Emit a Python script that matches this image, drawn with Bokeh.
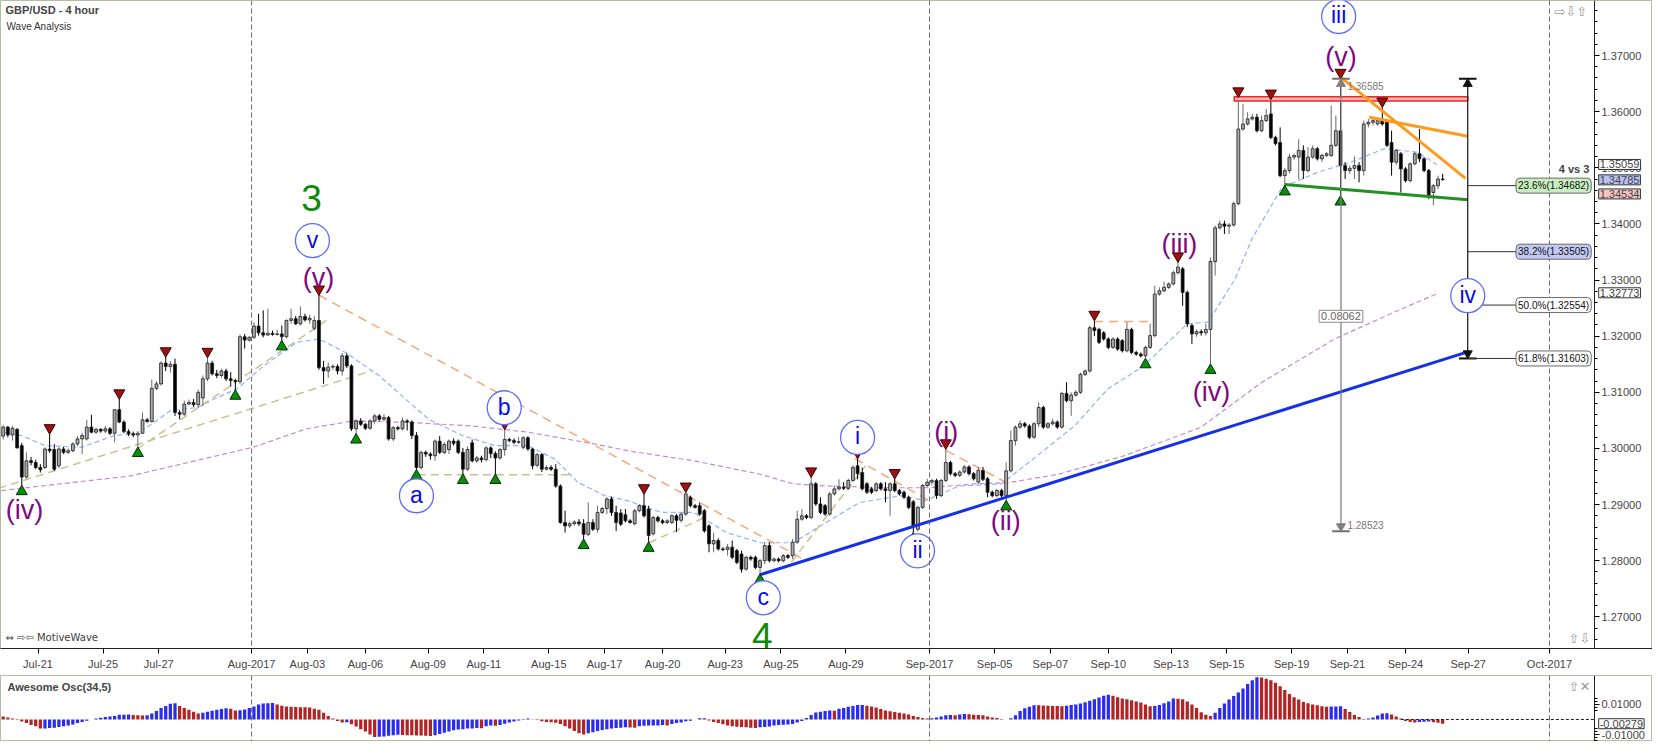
from bokeh.plotting import figure
from bokeh.models import (Range1d, FixedTicker, NumeralTickFormatter, CustomJSTickFormatter,
                          Span, Label, ColumnDataSource)
from bokeh.layouts import column
from bokeh.embed import file_html
from bokeh.resources import INLINE
from bokeh.core.properties import value

# ---------------- data (GBP/USD 4h candles, index = candle number) ----------------
opens = [
1.3022, 1.3038, 1.3024, 1.3034, 1.3005, 1.2949, 1.2978, 1.2975, 1.2966, 1.2966,
1.2999, 1.2998, 1.2969, 1.2999, 1.2993, 1.2996, 1.3008, 1.3017, 1.3017, 1.3038,
1.3029, 1.3034, 1.3031, 1.3035, 1.3027, 1.3069, 1.3047, 1.3030, 1.3026, 1.3024,
1.3027, 1.3051, 1.3048, 1.3107, 1.3115, 1.3152, 1.3146, 1.3150, 1.3064, 1.3061,
1.3079, 1.3082, 1.3078, 1.3090, 1.3124, 1.3152, 1.3133, 1.3130, 1.3138, 1.3124,
1.3121, 1.3119, 1.3199, 1.3193, 1.3198, 1.3218, 1.3206, 1.3202, 1.3205, 1.3203,
1.3204, 1.3199, 1.3228, 1.3231, 1.3222, 1.3235, 1.3229, 1.3214, 1.3228, 1.3144,
1.3138, 1.3145, 1.3146, 1.3138, 1.3165, 1.3147, 1.3035, 1.3049, 1.3043, 1.3036,
1.3049, 1.3058, 1.3052, 1.3055, 1.3017, 1.3037, 1.3035, 1.3049, 1.3047, 1.3023,
1.2966, 1.2993, 1.2990, 1.2987, 1.3013, 1.2993, 1.2998, 1.3013, 1.3013, 1.2993,
1.2963, 1.3010, 1.2978, 1.2983, 1.2980, 1.3001, 1.2991, 1.2983, 1.2998, 1.3016,
1.3014, 1.3011, 1.3002, 1.3019, 1.2999, 1.2970, 1.2989, 1.2963, 1.2966, 1.2963,
1.2933, 1.2868, 1.2862, 1.2866, 1.2869, 1.2866, 1.2847, 1.2868, 1.2856, 1.2886,
1.2893, 1.2910, 1.2886, 1.2885, 1.2882, 1.2871, 1.2866, 1.2889, 1.2898, 1.2892,
1.2848, 1.2877, 1.2871, 1.2868, 1.2868, 1.2880, 1.2872, 1.2883, 1.2913, 1.2898,
1.2898, 1.2889, 1.2862, 1.2830, 1.2836, 1.2821, 1.2820, 1.2824, 1.2818, 1.2812,
1.2785, 1.2806, 1.2806, 1.2788, 1.2800, 1.2827, 1.2800, 1.2803, 1.2800, 1.2809,
1.2809, 1.2833, 1.2874, 1.2880, 1.2877, 1.2937, 1.2901, 1.2898, 1.2883, 1.2919,
1.2928, 1.2931, 1.2929, 1.2943, 1.2969, 1.2957, 1.2937, 1.2928, 1.2925, 1.2937,
1.2928, 1.2925, 1.2937, 1.2925, 1.2922, 1.2913, 1.2905, 1.2856, 1.2895, 1.2934,
1.2940, 1.2943, 1.2916, 1.2943, 1.2975, 1.2955, 1.2952, 1.2958, 1.2967, 1.2955,
1.2940, 1.2961, 1.2946, 1.2922, 1.2916, 1.2925, 1.2916, 1.2960, 1.3014, 1.3038,
1.3044, 1.3040, 1.3020, 1.3044, 1.3073, 1.3038, 1.3044, 1.3047, 1.3038, 1.3098,
1.3085, 1.3095, 1.3100, 1.3132, 1.3138, 1.3215, 1.3212, 1.3206, 1.3195, 1.3180,
1.3195, 1.3192, 1.3174, 1.3212, 1.3171, 1.3168, 1.3165, 1.3180, 1.3201, 1.3275,
1.3281, 1.3287, 1.3293, 1.3313, 1.3320, 1.3278, 1.3219, 1.3204, 1.3208, 1.3206,
1.3212, 1.3333, 1.3393, 1.3400, 1.3396, 1.3398, 1.3436, 1.3569, 1.3578, 1.3587,
1.3590, 1.3566, 1.3584, 1.3596, 1.3554, 1.3545, 1.3486, 1.3495, 1.3519, 1.3519,
1.3531, 1.3495, 1.3519, 1.3534, 1.3516, 1.3522, 1.3522, 1.3540, 1.3566, 1.3504,
1.3495, 1.3499, 1.3504, 1.3495, 1.3578, 1.3581, 1.3578, 1.3587, 1.3584, 1.3545,
1.3510, 1.3525, 1.3498, 1.3477, 1.3507, 1.3525, 1.3516, 1.3495, 1.3456, 1.3468,
1.3480]

highs = [
1.3042, 1.3040, 1.3040, 1.3036, 1.3010, 1.2993, 1.2985, 1.2980, 1.2972, 1.3002,
1.3026, 1.3008, 1.3002, 1.3003, 1.3000, 1.3011, 1.3022, 1.3028, 1.3051, 1.3060,
1.3037, 1.3036, 1.3040, 1.3038, 1.3070, 1.3088, 1.3050, 1.3034, 1.3030, 1.3031,
1.3064, 1.3054, 1.3123, 1.3120, 1.3155, 1.3163, 1.3156, 1.3160, 1.3068, 1.3085,
1.3087, 1.3088, 1.3105, 1.3130, 1.3162, 1.3156, 1.3140, 1.3142, 1.3142, 1.3136,
1.3124, 1.3203, 1.3204, 1.3200, 1.3225, 1.3240, 1.3246, 1.3249, 1.3210, 1.3212,
1.3219, 1.3230, 1.3249, 1.3236, 1.3253, 1.3240, 1.3238, 1.3236, 1.3273, 1.3156,
1.3153, 1.3150, 1.3150, 1.3170, 1.3170, 1.3150, 1.3052, 1.3054, 1.3045, 1.3052,
1.3061, 1.3061, 1.3061, 1.3058, 1.3040, 1.3040, 1.3055, 1.3052, 1.3050, 1.3029,
1.2996, 1.2996, 1.2993, 1.3016, 1.3022, 1.3011, 1.3016, 1.3018, 1.3016, 1.3001,
1.3004, 1.3016, 1.2987, 1.2987, 1.3004, 1.3004, 1.2995, 1.3001, 1.3034, 1.3019,
1.3018, 1.3020, 1.3022, 1.3022, 1.3001, 1.2992, 1.2992, 1.2970, 1.2970, 1.2972,
1.2936, 1.2889, 1.2870, 1.2872, 1.2874, 1.2874, 1.2904, 1.2874, 1.2898, 1.2896,
1.2913, 1.2914, 1.2898, 1.2892, 1.2892, 1.2874, 1.2892, 1.2901, 1.2919, 1.2898,
1.2880, 1.2880, 1.2874, 1.2874, 1.2883, 1.2883, 1.2886, 1.2922, 1.2916, 1.2901,
1.2904, 1.2892, 1.2865, 1.2850, 1.2840, 1.2824, 1.2830, 1.2836, 1.2821, 1.2818,
1.2809, 1.2809, 1.2809, 1.2803, 1.2833, 1.2833, 1.2806, 1.2806, 1.2812, 1.2812,
1.2839, 1.2889, 1.2892, 1.2883, 1.2949, 1.2940, 1.2913, 1.2901, 1.2922, 1.2934,
1.2945, 1.2940, 1.2946, 1.2970, 1.2982, 1.2966, 1.2940, 1.2931, 1.2940, 1.2940,
1.2940, 1.2940, 1.2946, 1.2928, 1.2925, 1.2916, 1.2908, 1.2898, 1.2937, 1.2946,
1.2946, 1.2946, 1.2946, 1.2999, 1.2978, 1.2958, 1.2961, 1.2970, 1.2970, 1.2958,
1.2967, 1.2967, 1.2949, 1.2925, 1.2928, 1.2928, 1.2975, 1.3032, 1.3041, 1.3050,
1.3047, 1.3043, 1.3047, 1.3082, 1.3076, 1.3047, 1.3053, 1.3050, 1.3101, 1.3118,
1.3100, 1.3104, 1.3135, 1.3141, 1.3219, 1.3228, 1.3215, 1.3209, 1.3198, 1.3198,
1.3198, 1.3195, 1.3225, 1.3215, 1.3174, 1.3171, 1.3183, 1.3222, 1.3290, 1.3287,
1.3297, 1.3296, 1.3317, 1.3332, 1.3323, 1.3281, 1.3222, 1.3212, 1.3212, 1.3222,
1.3340, 1.3397, 1.3406, 1.3406, 1.3402, 1.3440, 1.3626, 1.3614, 1.3599, 1.3596,
1.3596, 1.3593, 1.3605, 1.3622, 1.3557, 1.3572, 1.3500, 1.3525, 1.3525, 1.3551,
1.3540, 1.3537, 1.3540, 1.3537, 1.3525, 1.3528, 1.3611, 1.3593, 1.3659, 1.3510,
1.3504, 1.3520, 1.3510, 1.3584, 1.3587, 1.3587, 1.3590, 1.3608, 1.3587, 1.3566,
1.3534, 1.3528, 1.3501, 1.3510, 1.3528, 1.3569, 1.3519, 1.3498, 1.3471, 1.3486,
1.3489]

lows = [
1.3016, 1.3020, 1.3014, 1.3000, 1.2934, 1.2946, 1.2970, 1.2963, 1.2957, 1.2963,
1.2992, 1.2960, 1.2965, 1.2990, 1.2990, 1.2993, 1.3004, 1.2990, 1.3014, 1.3027,
1.3026, 1.3028, 1.3027, 1.3024, 1.3011, 1.3045, 1.3027, 1.3022, 1.3020, 1.3002,
1.3026, 1.3046, 1.3046, 1.3104, 1.3112, 1.3138, 1.3135, 1.3058, 1.3052, 1.3058,
1.3077, 1.3074, 1.3072, 1.3075, 1.3120, 1.3130, 1.3125, 1.3126, 1.3120, 1.3110,
1.3104, 1.3115, 1.3178, 1.3190, 1.3195, 1.3201, 1.3198, 1.3201, 1.3201, 1.3201,
1.3192, 1.3196, 1.3222, 1.3220, 1.3219, 1.3226, 1.3222, 1.3210, 1.3140, 1.3115,
1.3126, 1.3140, 1.3132, 1.3130, 1.3143, 1.3031, 1.3026, 1.3040, 1.3033, 1.3033,
1.3044, 1.3049, 1.3048, 1.3014, 1.3013, 1.3032, 1.3032, 1.3032, 1.3017, 1.2962,
1.2963, 1.2985, 1.2980, 1.2978, 1.2990, 1.2990, 1.2990, 1.3005, 1.2990, 1.2954,
1.2960, 1.2975, 1.2974, 1.2975, 1.2977, 1.2983, 1.2954, 1.2980, 1.2987, 1.3011,
1.3008, 1.3008, 1.2998, 1.2996, 1.2963, 1.2966, 1.2958, 1.2961, 1.2960, 1.2930,
1.2866, 1.2850, 1.2858, 1.2862, 1.2862, 1.2838, 1.2844, 1.2853, 1.2850, 1.2883,
1.2883, 1.2880, 1.2853, 1.2862, 1.2868, 1.2866, 1.2863, 1.2886, 1.2877, 1.2833,
1.2845, 1.2868, 1.2865, 1.2865, 1.2865, 1.2851, 1.2868, 1.2880, 1.2895, 1.2893,
1.2880, 1.2850, 1.2815, 1.2815, 1.2818, 1.2817, 1.2809, 1.2803, 1.2794, 1.2779,
1.2782, 1.2800, 1.2785, 1.2776, 1.2794, 1.2797, 1.2797, 1.2797, 1.2797, 1.2803,
1.2803, 1.2830, 1.2871, 1.2874, 1.2874, 1.2898, 1.2883, 1.2880, 1.2880, 1.2916,
1.2925, 1.2926, 1.2926, 1.2940, 1.2945, 1.2925, 1.2919, 1.2919, 1.2922, 1.2925,
1.2904, 1.2880, 1.2922, 1.2916, 1.2910, 1.2892, 1.2850, 1.2852, 1.2892, 1.2931,
1.2935, 1.2910, 1.2913, 1.2940, 1.2952, 1.2949, 1.2949, 1.2955, 1.2952, 1.2943,
1.2937, 1.2942, 1.2913, 1.2913, 1.2913, 1.2912, 1.2907, 1.2957, 1.3005, 1.3035,
1.3037, 1.3017, 1.3017, 1.3038, 1.3035, 1.3035, 1.3041, 1.3035, 1.3035, 1.3082,
1.3058, 1.3092, 1.3097, 1.3129, 1.3135, 1.3200, 1.3186, 1.3192, 1.3177, 1.3177,
1.3174, 1.3171, 1.3171, 1.3168, 1.3165, 1.3162, 1.3160, 1.3177, 1.3198, 1.3272,
1.3278, 1.3284, 1.3290, 1.3310, 1.3254, 1.3216, 1.3186, 1.3199, 1.3201, 1.3201,
1.3150, 1.3308, 1.3390, 1.3382, 1.3382, 1.3395, 1.3433, 1.3566, 1.3575, 1.3584,
1.3563, 1.3563, 1.3581, 1.3551, 1.3540, 1.3483, 1.3468, 1.3490, 1.3514, 1.3480,
1.3480, 1.3492, 1.3516, 1.3513, 1.3510, 1.3519, 1.3519, 1.3537, 1.3450, 1.3480,
1.3489, 1.3480, 1.3474, 1.3486, 1.3572, 1.3575, 1.3575, 1.3575, 1.3537, 1.3486,
1.3505, 1.3456, 1.3474, 1.3474, 1.3504, 1.3510, 1.3492, 1.3444, 1.3433, 1.3462,
1.3477]

closes = [
1.3038, 1.3024, 1.3036, 1.3001, 1.2949, 1.2978, 1.2975, 1.2966, 1.2962, 1.2999,
1.2996, 1.2963, 1.2999, 1.2993, 1.2996, 1.3008, 1.3017, 1.3023, 1.3038, 1.3029,
1.3034, 1.3031, 1.3035, 1.3027, 1.3069, 1.3047, 1.3030, 1.3026, 1.3024, 1.3027,
1.3051, 1.3048, 1.3107, 1.3115, 1.3152, 1.3146, 1.3150, 1.3064, 1.3061, 1.3079,
1.3082, 1.3078, 1.3100, 1.3124, 1.3152, 1.3133, 1.3130, 1.3138, 1.3124, 1.3121,
1.3119, 1.3199, 1.3193, 1.3198, 1.3218, 1.3206, 1.3202, 1.3205, 1.3203, 1.3204,
1.3199, 1.3228, 1.3231, 1.3222, 1.3235, 1.3229, 1.3232, 1.3228, 1.3144, 1.3138,
1.3145, 1.3146, 1.3138, 1.3165, 1.3147, 1.3035, 1.3049, 1.3043, 1.3036, 1.3049,
1.3058, 1.3052, 1.3055, 1.3017, 1.3037, 1.3035, 1.3049, 1.3047, 1.3023, 1.2966,
1.2993, 1.2990, 1.2987, 1.3013, 1.2993, 1.3007, 1.3013, 1.3009, 1.2993, 1.2963,
1.2998, 1.2978, 1.2983, 1.2980, 1.3001, 1.2991, 1.2983, 1.2998, 1.3016, 1.3014,
1.3011, 1.3012, 1.3019, 1.2999, 1.2969, 1.2989, 1.2963, 1.2966, 1.2963, 1.2933,
1.2868, 1.2862, 1.2866, 1.2869, 1.2866, 1.2847, 1.2868, 1.2856, 1.2886, 1.2893,
1.2910, 1.2886, 1.2868, 1.2865, 1.2871, 1.2868, 1.2889, 1.2898, 1.2880, 1.2845,
1.2877, 1.2871, 1.2868, 1.2871, 1.2880, 1.2872, 1.2883, 1.2919, 1.2898, 1.2895,
1.2883, 1.2853, 1.2830, 1.2836, 1.2821, 1.2820, 1.2824, 1.2806, 1.2797, 1.2785,
1.2806, 1.2803, 1.2788, 1.2800, 1.2827, 1.2800, 1.2803, 1.2800, 1.2809, 1.2806,
1.2833, 1.2874, 1.2880, 1.2877, 1.2937, 1.2901, 1.2886, 1.2883, 1.2919, 1.2928,
1.2931, 1.2929, 1.2943, 1.2966, 1.2955, 1.2928, 1.2922, 1.2922, 1.2937, 1.2928,
1.2925, 1.2937, 1.2925, 1.2919, 1.2913, 1.2895, 1.2862, 1.2895, 1.2934, 1.2940,
1.2943, 1.2916, 1.2943, 1.2975, 1.2955, 1.2952, 1.2958, 1.2967, 1.2955, 1.2946,
1.2961, 1.2945, 1.2922, 1.2916, 1.2925, 1.2916, 1.2960, 1.3014, 1.3038, 1.3044,
1.3040, 1.3020, 1.3044, 1.3073, 1.3038, 1.3044, 1.3047, 1.3038, 1.3098, 1.3085,
1.3095, 1.3100, 1.3132, 1.3138, 1.3215, 1.3210, 1.3189, 1.3195, 1.3180, 1.3195,
1.3177, 1.3174, 1.3212, 1.3171, 1.3168, 1.3165, 1.3180, 1.3201, 1.3275, 1.3281,
1.3287, 1.3293, 1.3313, 1.3323, 1.3278, 1.3222, 1.3204, 1.3208, 1.3206, 1.3212,
1.3333, 1.3393, 1.3400, 1.3396, 1.3398, 1.3436, 1.3569, 1.3578, 1.3587, 1.3590,
1.3566, 1.3584, 1.3593, 1.3554, 1.3543, 1.3486, 1.3495, 1.3519, 1.3522, 1.3531,
1.3495, 1.3519, 1.3534, 1.3516, 1.3522, 1.3525, 1.3540, 1.3566, 1.3504, 1.3495,
1.3499, 1.3504, 1.3495, 1.3578, 1.3581, 1.3584, 1.3584, 1.3578, 1.3540, 1.3510,
1.3531, 1.3498, 1.3477, 1.3507, 1.3525, 1.3516, 1.3495, 1.3450, 1.3468, 1.3480,
1.3479]

# Awesome Oscillator (34,5) values per candle
ao_values = [
0.0020, 0.0014, 0.0006, -0.0004, -0.0014, -0.0024, -0.0036, -0.0044, -0.0060, -0.0060,
-0.0056, -0.0054, -0.0050, -0.0044, -0.0040, -0.0034, -0.0024, -0.0016, -0.0008, 0.0000,
0.0006, 0.0012, 0.0016, 0.0020, 0.0024, 0.0032, 0.0032, 0.0033, 0.0030, 0.0029,
0.0026, 0.0028, 0.0040, 0.0056, 0.0076, 0.0090, 0.0104, 0.0108, 0.0090, 0.0076,
0.0064, 0.0052, 0.0040, 0.0044, 0.0052, 0.0058, 0.0064, 0.0070, 0.0074, 0.0072,
0.0060, 0.0062, 0.0066, 0.0076, 0.0086, 0.0100, 0.0106, 0.0108, 0.0109, 0.0100,
0.0092, 0.0086, 0.0084, 0.0083, 0.0082, 0.0081, 0.0080, 0.0072, 0.0064, 0.0044,
0.0024, 0.0006, -0.0010, -0.0020, -0.0019, -0.0032, -0.0046, -0.0064, -0.0080, -0.0100,
-0.0116, -0.0114, -0.0112, -0.0108, -0.0104, -0.0102, -0.0103, -0.0104, -0.0105, -0.0106,
-0.0107, -0.0108, -0.0110, -0.0104, -0.0096, -0.0088, -0.0080, -0.0072, -0.0066, -0.0064,
-0.0060, -0.0059, -0.0056, -0.0058, -0.0044, -0.0040, -0.0041, -0.0036, -0.0028, -0.0020,
-0.0014, -0.0006, 0.0004, 0.0006, 0.0002, -0.0004, -0.0012, -0.0016, -0.0018, -0.0022,
-0.0030, -0.0044, -0.0060, -0.0076, -0.0092, -0.0100, -0.0092, -0.0084, -0.0076, -0.0070,
-0.0064, -0.0060, -0.0056, -0.0054, -0.0052, -0.0053, -0.0054, -0.0044, -0.0041, -0.0040,
-0.0040, -0.0039, -0.0036, -0.0040, -0.0030, -0.0024, -0.0020, -0.0012, -0.0008, 0.0000,
0.0008, 0.0009, -0.0006, -0.0016, -0.0024, -0.0032, -0.0040, -0.0044, -0.0048, -0.0050,
-0.0052, -0.0054, -0.0056, -0.0052, -0.0050, -0.0046, -0.0040, -0.0036, -0.0035, -0.0034,
-0.0030, -0.0020, -0.0010, 0.0010, 0.0030, 0.0046, 0.0052, 0.0056, 0.0060, 0.0058,
0.0072, 0.0076, 0.0084, 0.0090, 0.0096, 0.0097, 0.0092, 0.0086, 0.0080, 0.0070,
0.0060, 0.0054, 0.0050, 0.0044, 0.0040, 0.0034, 0.0024, 0.0016, 0.0010, 0.0006,
0.0008, 0.0014, 0.0020, 0.0028, 0.0030, 0.0028, 0.0034, 0.0036, 0.0035, 0.0032,
0.0030, 0.0028, 0.0020, 0.0014, 0.0010, 0.0004, 0.0000, 0.0008, 0.0028, 0.0056,
0.0074, 0.0084, 0.0095, 0.0094, 0.0093, 0.0092, 0.0090, 0.0089, 0.0088, 0.0092,
0.0096, 0.0100, 0.0106, 0.0114, 0.0124, 0.0134, 0.0146, 0.0158, 0.0164, 0.0158,
0.0148, 0.0140, 0.0134, 0.0128, 0.0120, 0.0112, 0.0100, 0.0088, 0.0090, 0.0096,
0.0108, 0.0120, 0.0140, 0.0138, 0.0134, 0.0120, 0.0100, 0.0076, 0.0048, 0.0032,
0.0024, 0.0044, 0.0076, 0.0106, 0.0132, 0.0156, 0.0180, 0.0206, 0.0236, 0.0260,
0.0280, 0.0278, 0.0270, 0.0260, 0.0244, 0.0220, 0.0196, 0.0170, 0.0148, 0.0132,
0.0116, 0.0108, 0.0100, 0.0094, 0.0088, 0.0084, 0.0086, 0.0087, 0.0088, 0.0070,
0.0050, 0.0030, 0.0016, 0.0004, 0.0006, 0.0014, 0.0026, 0.0040, 0.0041, 0.0034,
0.0020, 0.0006, -0.0010, -0.0016, -0.0020, -0.0016, -0.0015, -0.0014, -0.0018, -0.0022,
-0.0028]

# date axis (candle index of each day boundary)
tick_labels = ["Jul-21", "Jul-25", "Jul-27", "Aug-2017", "Aug-03", "Aug-06", "Aug-09", "Aug-11",
               "Aug-15", "Aug-17", "Aug-20", "Aug-23", "Aug-25", "Aug-29", "Sep-2017", "Sep-05",
               "Sep-07", "Sep-10", "Sep-13", "Sep-15", "Sep-19", "Sep-21", "Sep-24", "Sep-27", "Oct-2017"]
tick_pos = [7.5, 21.5, 33.5, 53.5, 65.5, 78.0, 91.5, 103.5, 117.5, 129.5, 142.0, 155.5, 167.5,
            181.5, 199.5, 213.5, 225.5, 238.0, 251.5, 263.5, 277.5, 289.5, 302.0, 315.5, 333.0]
month_labels = ["Aug-2017", "Sep-2017", "Oct-2017"]
price_ticks = [1.27, 1.28, 1.29, 1.30, 1.31, 1.32, 1.33, 1.34, 1.35, 1.36, 1.37]
osc_ticks = [-0.01, 0.01]

# moving averages (candle index, price)
blue_ma_x = [-0.3, 3.9, 9.0, 16.8, 24.0, 28.9, 32.6, 36.0, 41.8, 45.4, 50.3, 56.1, 63.2, 68.1,
             73.9, 80.9, 91.6, 98.9, 105.9, 113.0, 118.8, 123.7, 129.5, 134.4, 141.7, 148.7,
             155.8, 163.1, 170.1, 177.2, 184.5, 193.6, 198.6, 205.8, 215.0, 223.6, 230.7, 237.9,
             245.6, 255.0, 259.5, 265.3, 268.9, 275.4, 283.1, 290.3, 297.4, 304.5, 308.7]
blue_ma_y = [1.3029, 1.3023, 1.3005, 1.3002, 1.3023, 1.3026, 1.3047, 1.3067, 1.3073, 1.3088,
             1.3106, 1.3147, 1.3189, 1.3195, 1.3170, 1.3130, 1.3052, 1.3023, 1.3005, 1.3005,
             1.2981, 1.2940, 1.2916, 1.2907, 1.2886, 1.2886, 1.2850, 1.2832, 1.2832, 1.2868,
             1.2904, 1.2916, 1.2907, 1.2933, 1.2937, 1.2993, 1.3040, 1.3106, 1.3147, 1.3222,
             1.3225, 1.3302, 1.3373, 1.3465, 1.3492, 1.3510, 1.3534, 1.3528, 1.3506]
purple_ma_x = [-0.4, 27.4, 53.8, 65.3, 75.4, 88.2, 101.0, 113.0, 127.3, 134.4, 148.7, 163.1,
               170.1, 177.2, 191.5, 199.6, 209.3, 216.5, 227.2, 241.4, 257.8, 271.1, 286.7,
               301.0, 309.2]
purple_ma_y = [1.2925, 1.2951, 1.3002, 1.3035, 1.3049, 1.3046, 1.3040, 1.3029, 1.3008, 1.2996,
               1.2978, 1.2954, 1.2937, 1.2933, 1.2930, 1.2930, 1.2937, 1.2939, 1.2954, 1.2987,
               1.3037, 1.3118, 1.3195, 1.3248, 1.3277]

# swing markers (candle numbers)
swing_high_idx = [10, 25, 35, 44, 68, 108, 138, 147, 174, 184, 192, 203, 235, 253, 266, 273, 288, 297]
swing_low_idx = [4, 29, 50, 60, 76, 89, 99, 106, 125, 139, 163, 196, 216, 246, 260, 276, 288]

# trendlines (candle index, price)
salmon_x0 = [68.0, 183.4, 203.1, 234.9]
salmon_y0 = [1.3273, 1.2982, 1.2996, 1.3226]
salmon_x1 = [172.3, 199.4, 216.1, 247.8]
salmon_y1 = [1.2803, 1.2907, 1.2939, 1.3226]
khaki_x0 = [-1.0, 28.9, 89.3, 139.1, 169.7]
khaki_y0 = [1.2929, 1.2999, 1.2953, 1.2832, 1.2797]
khaki_x1 = [79.6, 69.6, 122.4, 151.9, 185.7]
khaki_y1 = [1.3139, 1.3228, 1.2953, 1.2880, 1.2969]
blue_tl_x = [163.0, 315.4]
blue_tl_y = [1.2775, 1.3172]
green_tl_x = [276.0, 315.4]
green_tl_y = [1.3470, 1.3443]
orange_x0 = [288.1, 294.2]
orange_y0 = [1.3661, 1.3590]
orange_x1 = [314.9, 315.4]
orange_y1 = [1.3481, 1.3556]
red_zone_x = [265.1, 315.4]
red_zone_y = [1.36190, 1.36265]

# fibonacci projection
fib_x = 315.4
fib_top = 1.36585
fib_bottom = 1.31603
fib_pct = [23.6, 38.2, 50.0, 61.8]
fib_val = [1.34682, 1.33505, 1.32554, 1.31603]
fib_fill = ["#c9efc0", "#c3c9f3", "#ffffff", "#ffffff"]
fib_label_x = 325.8

# measured swing (v) high to low
meas_x = 288.1
meas_top = 1.36585
meas_bottom = 1.28523
meas_range = "0.08062"

# wave labels
circ_text = ["v", "b", "a", "c", "i", "ii", "iii", "iv"]
circ_x = [66.6, 107.9, 89.0, 163.7, 184.0, 196.9, 287.6, 315.4]
circ_y = [1.33702, 1.30725, 1.29157, 1.27339, 1.30196, 1.28176, 1.37695, 1.32722]
paren_text = ["(v)", "(iv)", "(i)", "(ii)", "(iii)", "(iv)", "(v)"]
paren_x = [67.9, 4.6, 203.1, 215.9, 253.3, 260.2, 288.1]
paren_y = [1.33043, 1.28907, 1.30285, 1.28711, 1.33649, 1.31011, 1.36970]
big_text = ["3", "4"]
big_x = [66.4, 163.5]
big_y = [1.34469, 1.26661]

# price flags on the right axis
flag_val = [1.35059, 1.34785, 1.34534, 1.32773]
flag_fill = ["#ffffff", "#b9c1f3", "#f6c4c4", "#ffffff"]
osc_flag = -0.00279

# ---------------- figure setup ----------------
FONT = "Liberation Sans"
X0, X1 = -0.58, 342.7          # chart area (axis line sits at X1)
FW = 1652                      # full frame incl. price-scale strip
XPX = 1594 / (X1 - X0)         # px per candle inside the chart area
XE = X0 + FW / XPX             # right end of frame
Y0, Y1 = 1.26436, 1.3798
FH = 648
OH = 66
ppx = (Y1 - Y0) / FH

n = min(len(opens), len(highs), len(lows), len(closes))
xs = list(range(n))

xr = Range1d(X0, XE)
p = figure(output_backend="svg", toolbar_location=None, x_range=xr, y_range=Range1d(Y0, Y1),
           frame_width=FW, frame_height=FH, min_border_left=0, min_border_right=0,
           min_border_top=0, min_border_bottom=0, y_axis_location="right")
p.grid.visible = False
p.outline_line_color = "#b9b9a8"
p.background_fill_color = "white"
p.border_fill_color = "white"

# axes
p.xaxis.ticker = FixedTicker(ticks=tick_pos)
p.xaxis.formatter = CustomJSTickFormatter(args=dict(pos=tick_pos, labs=tick_labels), code="""
let b = 0, d = 1e9;
for (let j = 0; j < pos.length; j++) { const e = Math.abs(pos[j] - tick); if (e < d) { d = e; b = j; } }
return labs[b];
""")
p.xaxis.major_tick_in = 0
p.xaxis.major_tick_out = 5
p.xaxis.minor_tick_out = 0
p.xaxis.major_label_standoff = 4
p.xaxis.major_label_text_font = FONT
p.xaxis.major_label_text_font_size = "11px"
p.xaxis.axis_line_color = "#222222"

minor = [round(1.264 + 0.002 * k, 3) for k in range(58)]
p.yaxis.fixed_location = X1
p.yaxis.ticker = FixedTicker(ticks=price_ticks, minor_ticks=minor)
p.yaxis.formatter = NumeralTickFormatter(format="0.00000")
p.yaxis.major_tick_in = 0
p.yaxis.major_tick_out = 5
p.yaxis.minor_tick_in = 0
p.yaxis.minor_tick_out = 3
p.yaxis.major_label_standoff = 2
p.yaxis.major_label_text_font = FONT
p.yaxis.major_label_text_font_size = "11px"
p.yaxis.axis_line_color = "#222222"

# month separators
for lab in month_labels:
    loc = tick_pos[tick_labels.index(lab)]
    p.add_layout(Span(location=loc, dimension="height", line_color="#666666",
                      line_dash="5 3", line_width=1))

# moving averages
p.line(purple_ma_x, purple_ma_y, line_color="#c98ac9", line_dash="5 3", line_width=1.2)
p.line(blue_ma_x, blue_ma_y, line_color="#94b0ff", line_dash="5 3", line_width=1.2)

# dashed trendlines
p.segment(x0=khaki_x0, y0=khaki_y0, x1=khaki_x1, y1=khaki_y1, line_color="#c9c28e",
          line_dash="8 5", line_width=1.5)
p.segment(x0=salmon_x0, y0=salmon_y0, x1=salmon_x1, y1=salmon_y1, line_color="#f7a878",
          line_dash="9 6", line_width=1.5)

# candles
up = [closes[i] >= opens[i] for i in xs]
csrc = ColumnDataSource(dict(
    x=xs, h=highs[:n], l=lows[:n],
    top=[max(opens[i], closes[i]) for i in xs],
    bot=[min(opens[i], closes[i]) for i in xs],
    fill=["#ababab" if u else "#000000" for u in up],
    wick=["#6a6a6a" if u else "#000000" for u in up]))
p.segment(x0="x", y0="h", x1="x", y1="l", source=csrc, line_color="wick", line_width=1)
p.vbar(x="x", top="top", bottom="bot", width=0.62, source=csrc, fill_color="fill",
       line_color="#1a1a1a", line_width=0.8)

# solid trend lines
p.quad(left=[red_zone_x[0]], right=[red_zone_x[1]], bottom=[red_zone_y[0]], top=[red_zone_y[1]],
       fill_color="#ffb5b5", line_color="#f02525", line_width=1.5)
p.line(blue_tl_x, blue_tl_y, line_color="#1630e8", line_width=3)
p.line(green_tl_x, green_tl_y, line_color="#239023", line_width=3)
p.segment(x0=orange_x0, y0=orange_y0, x1=orange_x1, y1=orange_y1, line_color="#ff9b1c", line_width=3)

# swing markers
p.scatter(x=swing_high_idx, y=[highs[i] + 6 * ppx for i in swing_high_idx], marker="inverted_triangle",
          size=11, fill_color="#9c1111", line_color="#400000", line_width=1)
p.scatter(x=swing_low_idx, y=[lows[i] - 6 * ppx for i in swing_low_idx], marker="triangle",
          size=11, fill_color="#0b8c0b", line_color="#003300", line_width=1)

# measured move (gray)
p.segment(x0=[meas_x], y0=[meas_top], x1=[meas_x], y1=[meas_bottom], line_color="#808080", line_width=1.3)
p.segment(x0=[meas_x - 1.9, meas_x - 1.9], y0=[meas_top, meas_bottom], x1=[meas_x + 1.9, meas_x + 1.9],
          y1=[meas_top, meas_bottom], line_color="#707070", line_width=2)
p.scatter(x=[meas_x], y=[meas_top - 5 * ppx], marker="triangle", size=9, fill_color="#808080", line_color="#808080")
p.scatter(x=[meas_x], y=[meas_bottom + 5 * ppx], marker="inverted_triangle", size=9, fill_color="#808080", line_color="#808080")
p.add_layout(Label(x=meas_x + 1.4, y=meas_top - 7 * ppx, text="%.5f" % meas_top, text_font=FONT,
                   text_font_size="10px", text_color="#777777", text_baseline="middle"))
p.add_layout(Label(x=meas_x + 1.4, y=meas_bottom + 6 * ppx, text="%.5f" % meas_bottom, text_font=FONT,
                   text_font_size="10px", text_color="#777777", text_baseline="middle"))
p.add_layout(Label(x=meas_x, y=(meas_top + meas_bottom) / 2 - 0.0020, text=meas_range, text_font=FONT,
                   text_font_size="11px", text_color="#666666", text_align="center", text_baseline="middle",
                   background_fill_color="white", border_line_color="#8a8a8a", padding=2))

# fibonacci projection (black)
p.segment(x0=[fib_x], y0=[fib_top], x1=[fib_x], y1=[fib_bottom], line_color="#111111", line_width=1.2)
p.segment(x0=[fib_x - 1.9, fib_x - 1.9], y0=[fib_top, fib_bottom], x1=[fib_x + 1.9, fib_x + 1.9],
          y1=[fib_top, fib_bottom], line_color="#111111", line_width=2)
p.scatter(x=[fib_x], y=[fib_top - 5 * ppx], marker="triangle", size=9, fill_color="#111111", line_color="#111111")
p.scatter(x=[fib_x], y=[fib_bottom + 5 * ppx], marker="inverted_triangle", size=9, fill_color="#111111", line_color="#111111")
p.segment(x0=[fib_x] * len(fib_val), y0=fib_val, x1=[fib_label_x] * len(fib_val), y1=fib_val,
          line_color="#333333", line_width=1)
for pct, val, fc in zip(fib_pct, fib_val, fib_fill):
    p.add_layout(Label(x=fib_label_x, y=val, text="%.1f%%(%.5f)" % (pct, val), text_font=FONT,
                       text_font_size="10px", text_color="#111111", text_baseline="middle",
                       background_fill_color=fc, border_line_color="#6a6a6a", padding=2, border_radius=4))
p.add_layout(Label(x=341.6, y=1.34986, text="4 vs 3", text_font=FONT, text_font_style="bold",
                   text_font_size="11px", text_align="right", text_baseline="middle"))

# wave labels
csrc2 = ColumnDataSource(dict(x=circ_x, y=circ_y, t=circ_text))
p.scatter(x="x", y="y", source=csrc2, marker="circle", size=34, fill_color="white",
          line_color="#5a6dff", line_width=1.3)
p.text(x="x", y="y", text="t", source=csrc2, text_align="center", text_baseline="middle",
       text_font=value(FONT), text_font_size="23px", text_color="#0a0aee", y_offset=-1)
p.text(x=paren_x, y=paren_y, text=paren_text, text_align="center", text_baseline="middle",
       text_font=value(FONT), text_font_size="27px", text_color="#7d0a82")
p.text(x=big_x, y=big_y, text=big_text, text_align="center", text_baseline="middle",
       text_font=value(FONT), text_font_size="37px", text_color="#0c8a0c")

# header texts and icons
p.add_layout(Label(x=5, y=FH - 9, x_units="screen", y_units="screen", text="GBP/USD - 4 hour",
                   text_font=FONT, text_font_style="bold", text_font_size="11px", text_baseline="middle"))
p.add_layout(Label(x=6, y=FH - 26, x_units="screen", y_units="screen", text="Wave Analysis",
                   text_font=FONT, text_font_size="10px", text_color="#333333", text_baseline="middle"))
p.add_layout(Label(x=5, y=11, x_units="screen", y_units="screen", text="\u21d4 \u21e8\u21e6 MotiveWave",
                   text_font="DejaVu Sans", text_font_size="10px", text_color="#404040", text_baseline="middle"))
p.add_layout(Label(x=1554, y=FH - 11, x_units="screen", y_units="screen", text="\u21e8\u21e9\u21e7",
                   text_font="DejaVu Sans", text_font_size="13px", text_color="#9a9a9a", text_baseline="middle"))
p.add_layout(Label(x=1568, y=10, x_units="screen", y_units="screen", text="\u21e7\u21e9",
                   text_font="DejaVu Sans", text_font_size="13px", text_color="#9a9a9a", text_baseline="middle"))

# flags on price axis
for v, fc in zip(flag_val, flag_fill):
    p.add_layout(Label(x=X1 + 0.9, y=v, text="%.5f" % v, text_font=FONT, text_font_size="11px",
                       text_baseline="middle", background_fill_color=fc, border_line_color="#333333",
                       padding=1))

# ---------------- oscillator ----------------
m = len(ao_values)
ao_col = ["#b22424" if (k == 0 or ao_values[k] < ao_values[k - 1]) else "#2b2bf0" for k in range(m)]
p2 = figure(output_backend="svg", toolbar_location=None, x_range=xr, y_range=Range1d(-0.0146, 0.0292),
            frame_width=FW, frame_height=OH, min_border_left=0, min_border_right=0,
            min_border_top=3, min_border_bottom=0, y_axis_location="right", x_axis_location=None)
p2.grid.visible = False
p2.outline_line_color = "#b9b9a8"
p2.vbar(x=list(range(m)), top=ao_values, bottom=0, width=0.7, fill_color=ao_col, line_color=None)
p2.line([301, X1], [0, 0], line_color="#222222", line_dash="3 2", line_width=1)
for lab in month_labels:
    loc = tick_pos[tick_labels.index(lab)]
    p2.add_layout(Span(location=loc, dimension="height", line_color="#666666",
                       line_dash="5 3", line_width=1))
p2.yaxis.fixed_location = X1
p2.yaxis.ticker = FixedTicker(ticks=osc_ticks, minor_ticks=[-0.014, -0.012, -0.008, -0.006, 0.006, 0.008, 0.012, 0.014])
p2.yaxis.formatter = NumeralTickFormatter(format="0.00000")
p2.yaxis.major_tick_in = 0
p2.yaxis.major_tick_out = 5
p2.yaxis.minor_tick_in = 0
p2.yaxis.minor_tick_out = 3
p2.yaxis.major_label_standoff = 2
p2.yaxis.major_label_text_font = FONT
p2.yaxis.major_label_text_font_size = "11px"
p2.yaxis.axis_line_color = "#222222"
p2.add_layout(Label(x=7, y=OH - 11, x_units="screen", y_units="screen", text="Awesome Osc(34,5)",
                    text_font=FONT, text_font_style="bold", text_font_size="11px", text_baseline="middle"))
p2.add_layout(Label(x=1568, y=OH - 11, x_units="screen", y_units="screen", text="\u21e7\u2715",
                    text_font="DejaVu Sans", text_font_size="13px", text_color="#9a9a9a", text_baseline="middle"))
p2.add_layout(Label(x=X1 + 0.9, y=osc_flag, text="%.5f" % osc_flag, text_font=FONT, text_font_size="11px",
                    text_baseline="middle", background_fill_color="white", border_line_color="#333333",
                    padding=1))

layout = column(p, p2, spacing=0)
open("out.html", "w").write(file_html(layout, INLINE, title="GBP/USD - 4 hour"))
